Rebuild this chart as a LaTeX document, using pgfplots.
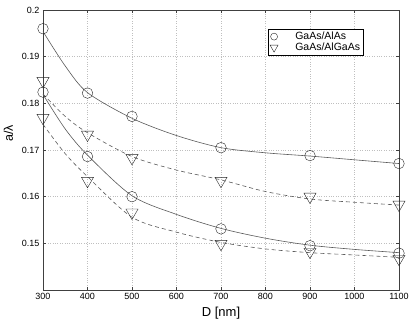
\documentclass[border=0pt]{standalone}
\usepackage{fontspec}
\setmainfont{Liberation Sans}
\usepackage{pgfplots}
\pgfplotsset{compat=1.18}
\definecolor{curvegray}{gray}{0.35}
\definecolor{markgray}{gray}{0.15}
\definecolor{gridgray}{gray}{0.75}

\begin{document}
\begin{tikzpicture}
\path[use as bounding box] (-43pt,-34pt) rectangle (372pt,290pt);
\begin{axis}[
  scale only axis,
  width=356pt, height=280pt,
  xmin=300, xmax=1100,
  ymin=0.14, ymax=0.2,
  xtick={300,400,...,1100},
  ytick={0.15,0.16,0.17,0.18,0.19,0.2},
  grid=major,
  grid style={gridgray,dotted,line width=0.4pt},
  axis line style={black!75,line width=0.7pt},
  tick style={black!75,line width=0.5pt},
  major tick length=3pt,
  tick align=inside,
  tick label style={font=\fontsize{9}{10}\selectfont},
  /pgf/number format/assume math mode=true,
  /pgf/number format/1000 sep={},
  yticklabel style={/pgf/number format/fixed,/pgf/number format/precision=2},
  xlabel={D [nm]},
  ylabel={a/λ},
  xlabel style={font=\fontsize{13}{14}\selectfont,at={(rel axis cs:0.5,-0.082)},anchor=center},
  ylabel style={font=\fontsize{12.5}{14}\selectfont,at={(rel axis cs:-0.097,0.56)},anchor=center},
  legend style={at={(rel axis cs:0.631,0.931)},anchor=north west,
    draw=black,line width=0.5pt,font=\fontsize{10.5}{12}\selectfont,
    inner xsep=2pt,inner ysep=1.5pt,nodes={inner sep=1pt},row sep=0pt,
    column sep=16pt},
  legend cell align=left,
]
\addlegendimage{legend image code/.code={
  \draw[markgray,line width=0.4pt] (8pt,0pt) circle (3.5pt);}}
\addlegendentry{GaAs/AlAs}
\addlegendimage{legend image code/.code={
  \draw[markgray,line width=0.4pt] (4pt,2.6pt) -- (12pt,2.6pt) -- (8pt,-4.4pt) -- cycle;}}
\addlegendentry{GaAs/AlGaAs}

% fitted curves, solid (GaAs/AlAs)
\addplot[forget plot,curvegray,line width=0.6pt,smooth,tension=0.5] coordinates {
  (300,0.1954) (350,0.1880) (400,0.1823) (500,0.1768) (600,0.1731)
  (700,0.1705) (800,0.1694) (900,0.1687) (1000,0.1679) (1100,0.1671)};
\addplot[forget plot,curvegray,line width=0.6pt,smooth,tension=0.5] coordinates {
  (300,0.1819) (350,0.1745) (400,0.1689) (500,0.1602) (600,0.1562)
  (700,0.1532) (800,0.1511) (900,0.1496) (1000,0.1487) (1100,0.1480)};
% fitted curves, dashed (GaAs/AlGaAs)
\addplot[forget plot,curvegray,line width=0.6pt,dash pattern=on 4pt off 3pt,smooth,tension=0.5] coordinates {
  (300,0.1820) (350,0.1772) (400,0.1737) (500,0.1686) (600,0.1657)
  (700,0.1636) (800,0.1611) (900,0.1595) (1000,0.1588) (1100,0.1582)};
\addplot[forget plot,curvegray,line width=0.6pt,dash pattern=on 4pt off 3pt,smooth,tension=0.5] coordinates {
  (300,0.1755) (350,0.1692) (400,0.1643) (500,0.1556) (600,0.1524)
  (700,0.1502) (800,0.1488) (900,0.1480) (1000,0.1475) (1100,0.1470)};

% measured points, circles
\addplot[forget plot,only marks,mark=o,mark size=5.3pt,markgray,line width=0.4pt] coordinates {
  (300,0.1960) (400,0.1822) (500,0.1772) (700,0.1705) (900,0.1688) (1100,0.1671)};
\addplot[forget plot,only marks,mark=o,mark size=5.3pt,markgray,line width=0.4pt] coordinates {
  (300,0.1824) (400,0.1686) (500,0.1600) (700,0.1531) (900,0.1495) (1100,0.1479)};
% measured points, triangles
\addplot[forget plot,only marks,mark=triangle,mark size=7pt,mark options={rotate=180},markgray,line width=0.4pt] coordinates {
  (300,0.1848) (400,0.1733) (500,0.1683) (700,0.1634) (900,0.1600) (1100,0.1583)};
\addplot[forget plot,only marks,mark=triangle,mark size=7pt,mark options={rotate=180},markgray,line width=0.4pt] coordinates {
  (300,0.1769) (400,0.1634) (500,0.1566) (700,0.1499) (900,0.1482) (1100,0.1467)};
\end{axis}
\end{tikzpicture}
\end{document}
